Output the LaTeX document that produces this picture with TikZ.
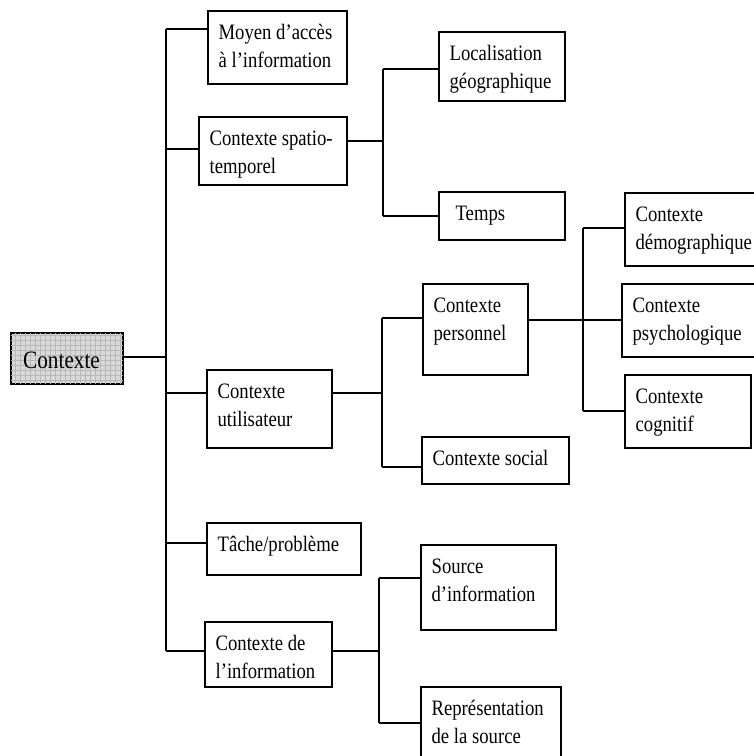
\documentclass[tikz,border=0pt]{standalone}
\usepackage{fontspec}
\setmainfont{Liberation Serif}[FakeStretch=0.85]
\usetikzlibrary{calc}
\newcommand\tl[2]{\vtop{\baselineskip=28pt\hbox{#1}\hbox{#2}}}
\newcommand\mkbox[6]{%
  \node[box, minimum width={#4-#2}, minimum height={#5-#3}] (#1) at ({(#2+#4)/2},{(#3+#5)/2}) {};
  \node[lbl] (#1-t) at ($(#1.north west)+(11,29.5)$) {#6};}
\newcommand\jn[3]{% name, y, junction x
  \coordinate (#1) at (#3,#2);}
\begin{document}
\begin{tikzpicture}[x=1pt,y=-1pt,
  box/.style={draw, rectangle, inner sep=0pt, line width=1.2pt, fill=white},
  lbl/.style={anchor=base west, inner sep=0pt, font=\fontsize{22}{28}\selectfont},
  wire/.style={line width=1.1pt}]
\useasboundingbox (0,0) rectangle (754,756);
\clip (0,0) rectangle (754,756);
\fill[white] (0,0) rectangle (754,756);

% ---- connectors (drawn first, boxes on top) ----
% trunk
\coordinate (tA) at (166,29);
\coordinate (tB) at (166,149);
\coordinate (tR) at (166,357);
\coordinate (tC) at (166,393);
\coordinate (tD) at (166,543);
\coordinate (tE) at (166,651);
% spatio branch
\coordinate (sO) at (383,141);
\coordinate (sA) at (383,69);
\coordinate (sB) at (383,216);
% utilisateur branch
\coordinate (uO) at (382,393);
\coordinate (uA) at (382,318);
\coordinate (uB) at (382,467);
% personnel branch
\coordinate (pO) at (583,320);
\coordinate (pA) at (583,228);
\coordinate (pB) at (583,411);
% information branch
\coordinate (iO) at (379,651);
\coordinate (iA) at (379,578);
\coordinate (iB) at (379,723);

% ---- boxes ----
\node[box, fill=black!15, minimum width=112, minimum height=51] (root) at (67,358.5) {};
\begin{scope}
  \clip (root.south west) rectangle (root.north east);
  \draw[black!28, line width=0.5pt, step=5pt] (root.south west) grid (root.north east);
\end{scope}
\draw[line width=1.2pt] (root.south west) rectangle (root.north east);
\node[anchor=base west, inner sep=0pt, font=\fontsize{25}{30}\selectfont] (root-t) at (23,368) {Contexte};

\mkbox{moyen}{208}{11}{347}{84}{\tl{Moyen d’accès}{à l’information}}
\mkbox{spatio}{199}{117}{347}{185}{\tl{Contexte spatio-}{temporel}}
\mkbox{util}{207}{370}{332}{448}{\tl{Contexte}{utilisateur}}
\mkbox{tache}{207}{523}{361}{575}{Tâche/problème}
\mkbox{info}{205}{622}{332}{687}{\tl{Contexte de}{l’information}}
\mkbox{loc}{439}{32}{565}{101}{\tl{Localisation}{géographique}}
\mkbox{temps}{439}{192}{565}{240}{\kern6pt Temps}
\mkbox{perso}{423}{284}{528}{375}{\tl{Contexte}{personnel}}
\mkbox{social}{422}{437}{569}{484}{Contexte social}
\mkbox{source}{421}{545}{556}{630}{\tl{Source}{d’information}}
\mkbox{repr}{421}{687}{561}{790}{\tl{Représentation}{de la source}}
\mkbox{demo}{625}{193}{790}{266}{\tl{Contexte}{démographique}}
\mkbox{psych}{622}{284}{790}{357}{\tl{Contexte}{psychologique}}
\mkbox{cogn}{625}{375}{751}{448}{\tl{Contexte}{cognitif}}

% ---- wires ----
\draw[wire] (tA) -- (tE);
\draw[wire] (root.east |- tR) -- (tR);
\draw[wire] (tA) -- (tA -| moyen.west);
\draw[wire] (tB) -- (tB -| spatio.west);
\draw[wire] (tC) -- (tC -| util.west);
\draw[wire] (tD) -- (tD -| tache.west);
\draw[wire] (tE) -- (tE -| info.west);

\draw[wire] (spatio.east |- sO) -- (sO);
\draw[wire] (sA) -- (sB);
\draw[wire] (sA) -- (sA -| loc.west);
\draw[wire] (sB) -- (sB -| temps.west);

\draw[wire] (util.east |- uO) -- (uO);
\draw[wire] (uA) -- (uB);
\draw[wire] (uA) -- (uA -| perso.west);
\draw[wire] (uB) -- (uB -| social.west);

\draw[wire] (perso.east |- pO) -- (pO);
\draw[wire] (pA) -- (pB);
\draw[wire] (pA) -- (pA -| demo.west);
\draw[wire] (pO) -- (pO -| psych.west);
\draw[wire] (pB) -- (pB -| cogn.west);

\draw[wire] (info.east |- iO) -- (iO);
\draw[wire] (iA) -- (iB);
\draw[wire] (iA) -- (iA -| source.west);
\draw[wire] (iB) -- (iB -| repr.west);
\end{tikzpicture}
\end{document}
